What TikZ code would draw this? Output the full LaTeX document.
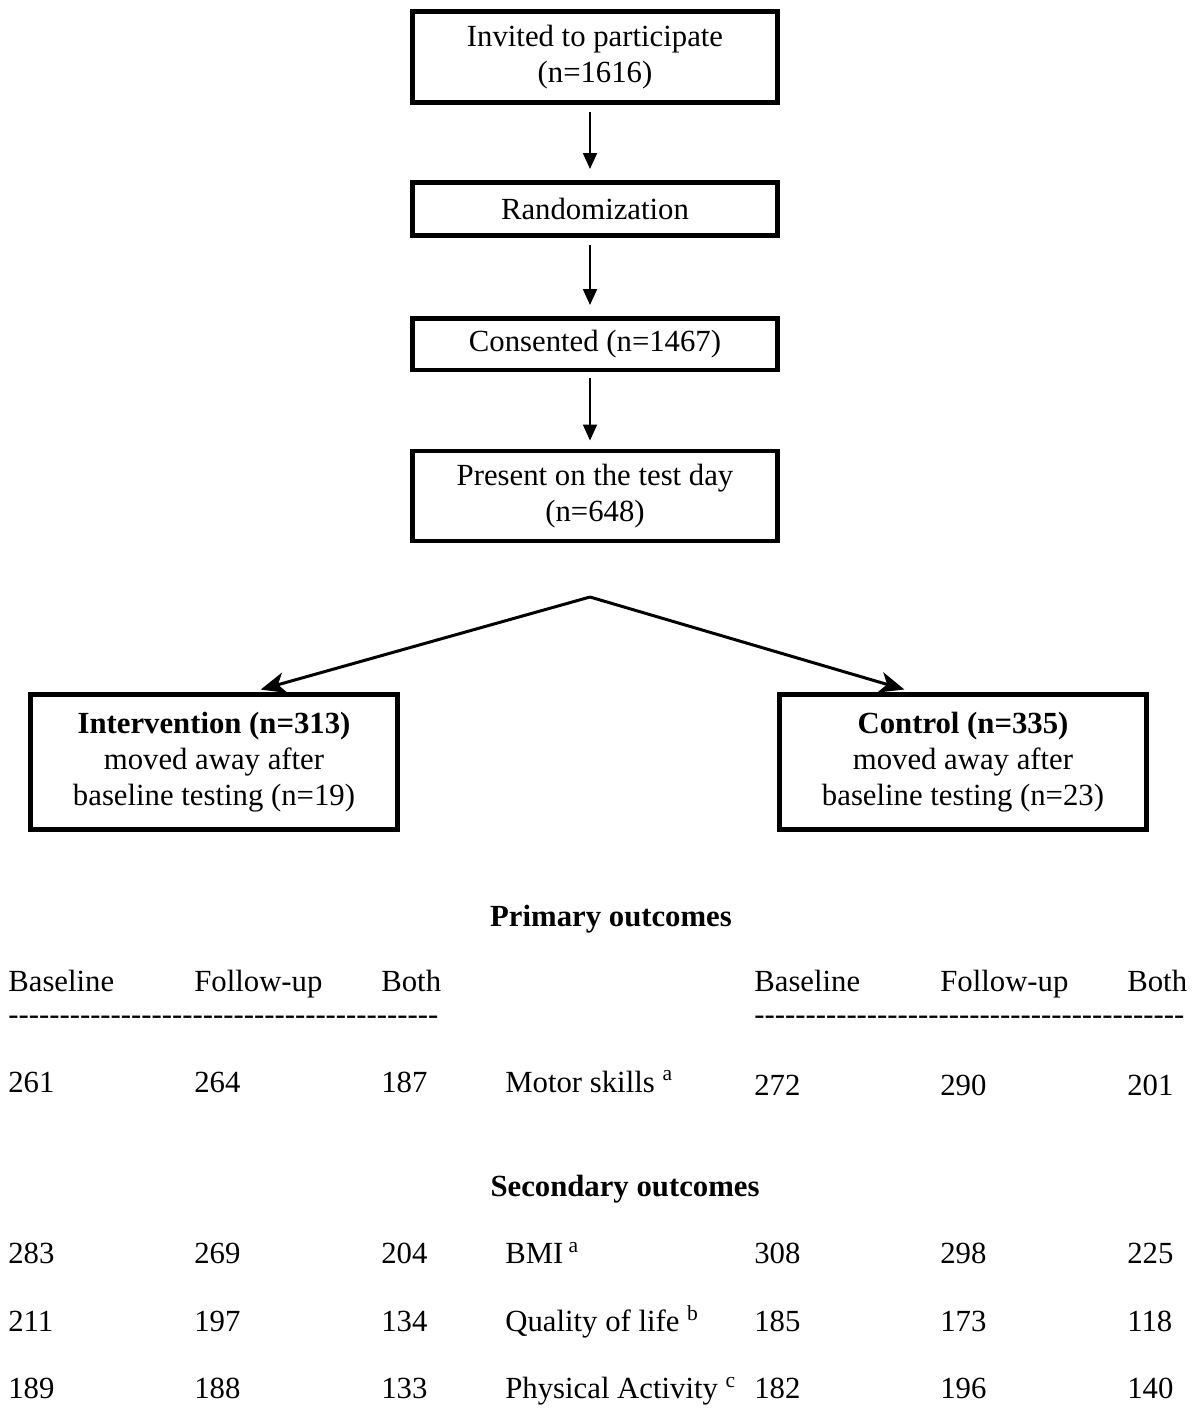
\documentclass[tikz,border=0pt]{standalone}
\usepackage{fontspec}
\setmainfont{Liberation Serif}
\usetikzlibrary{arrows,arrows.meta,positioning}

\newcommand{\dashrow}{\foreach \k in {1,...,42}{-}}

\tikzset{
  txt/.style={font=\fontsize{17.5}{20.3}\selectfont},
  box/.style={draw, txt, line width=0.09cm, align=center, inner sep=0pt, minimum width=7.3cm},
  cell/.style={txt, anchor=base west, inner sep=0pt},
  head/.style={anchor=base, inner sep=0pt, font=\fontsize{17.5}{20.3}\selectfont\bfseries},
  link/.style={-{Triangle[length=0.32cm,width=0.28cm]}, line width=0.04cm},
  fork/.style={-{Stealth[length=0.5cm,width=0.42cm,inset=0.14cm]}, line width=0.06cm}
}

\begin{document}
\begin{tikzpicture}[x=0.02cm,y=-0.02cm]
          \useasboundingbox (0,0) rectangle (1200,1423);
          % flow boxes with absolute coordinates
          \node[box, minimum height=1.83cm] (invited) at (595,57) {Invited to participate\\(n=1616)};
          \node[box, minimum height=1.07cm] (random) at (595,209) {Randomization};
          \node[box, minimum height=1.03cm] (consent) at (595,344) {Consented (n=1467)};
          \node[box, minimum height=1.81cm] (present) at (595,496) {Present on the test day\\(n=648)};
          \node[box, minimum width=7.35cm, minimum height=2.71cm] (inter) at (214,762) {\textbf{Intervention (n=313)}\\moved away after\\baseline testing (n=19)};
          \node[box, minimum width=7.35cm, minimum height=2.71cm] (ctrl) at (963,762) {\textbf{Control (n=335)}\\moved away after\\baseline testing (n=23)};
          \coordinate (split) at (590,597);
          % directed edges
          \draw [link, shorten <=0.14cm, shorten >=0.22cm] ([xshift=-0.1cm]invited.south) -- ([xshift=-0.1cm]random.north);
          \draw [link, shorten <=0.14cm, shorten >=0.22cm] ([xshift=-0.1cm]random.south) -- ([xshift=-0.1cm]consent.north);
          \draw [link, shorten <=0.12cm, shorten >=0.16cm] ([xshift=-0.1cm]consent.south) -- ([xshift=-0.1cm]present.north);
          \draw [fork, shorten >=0.18cm] (split) -- ([xshift=0.76cm]inter.north);
          \draw [fork, shorten >=0.18cm] (split) -- ([xshift=-1.0cm]ctrl.north);
          % primary outcomes
          \node[head] (prim) at (611,926) {Primary outcomes};
          \node[cell] (hb1) at (8,991) {Baseline};
          \node[cell] (hf1) at (194,991) {Follow-up};
          \node[cell] (ht1) at (381,991) {Both};
          \node[cell] (hb2) at (754,991) {Baseline};
          \node[cell] (hf2) at (940,991) {Follow-up};
          \node[cell] (ht2) at (1127,991) {Both};
          \node[cell] (rule1) at (8,1024) {\dashrow};
          \node[cell] (rule2) at (754,1024) {\dashrow};
          \node[cell] (mb1) at (8,1092) {261};
          \node[cell] (mf1) at (194,1092) {264};
          \node[cell] (mt1) at (381,1092) {187};
          \node[cell] (motor) at (505,1092) {Motor skills \textsuperscript{a}};
          \node[cell] (mb2) at (754,1095) {272};
          \node[cell] (mf2) at (940,1095) {290};
          \node[cell] (mt2) at (1127,1095) {201};
          % secondary outcomes
          \node[head] (sec) at (625,1196) {Secondary outcomes};
          \node[cell] (bb1) at (8,1263) {283};
          \node[cell] (bf1) at (194,1263) {269};
          \node[cell] (bt1) at (381,1263) {204};
          \node[cell] (bmi) at (505,1263) {BMI\,\textsuperscript{a}};
          \node[cell] (bb2) at (754,1263) {308};
          \node[cell] (bf2) at (940,1263) {298};
          \node[cell] (bt2) at (1127,1263) {225};
          \node[cell] (qb1) at (8,1331) {211};
          \node[cell] (qf1) at (194,1331) {197};
          \node[cell] (qt1) at (381,1331) {134};
          \node[cell] (qol) at (505,1331) {Quality of life \textsuperscript{b}};
          \node[cell] (qb2) at (754,1331) {185};
          \node[cell] (qf2) at (940,1331) {173};
          \node[cell] (qt2) at (1127,1331) {118};
          \node[cell] (pb1) at (8,1398) {189};
          \node[cell] (pf1) at (194,1398) {188};
          \node[cell] (pt1) at (381,1398) {133};
          \node[cell] (phys) at (505,1398) {Physical Activity \textsuperscript{c}};
          \node[cell] (pb2) at (754,1398) {182};
          \node[cell] (pf2) at (940,1398) {196};
          \node[cell] (pt2) at (1127,1398) {140};
        \end{tikzpicture}
\end{document}
